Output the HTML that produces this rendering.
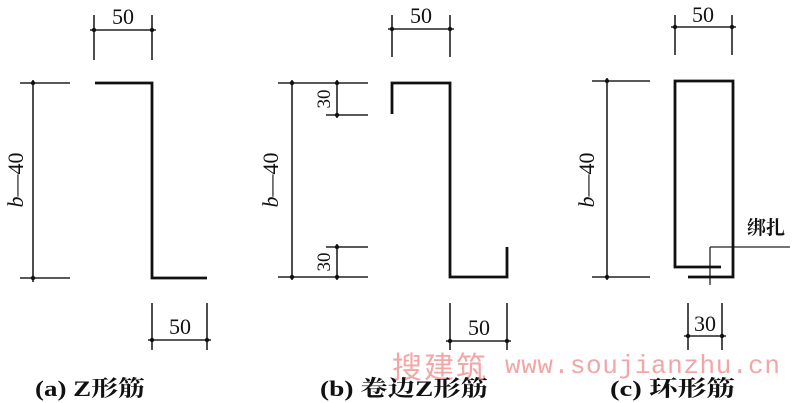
<!DOCTYPE html>
<html><head><meta charset="utf-8"><style>
html,body{margin:0;padding:0;background:#fff;}
svg{display:block;}
</style></head><body>
<svg width="800" height="403" viewBox="0 0 800 403" xmlns="http://www.w3.org/2000/svg">
<g stroke="#222" fill="none" stroke-width="1.6">
<line x1="94" y1="15" x2="94" y2="60"/><line x1="152" y1="15" x2="152" y2="60"/>
<line x1="90" y1="30" x2="156" y2="30"/>
<line x1="20" y1="83" x2="70" y2="83"/><line x1="20" y1="278" x2="70" y2="278"/>
<line x1="33" y1="80" x2="33" y2="282"/>
<line x1="152" y1="303" x2="152" y2="350"/><line x1="207" y1="303" x2="207" y2="350"/>
<line x1="148" y1="340" x2="211" y2="340"/>
<line x1="392" y1="15" x2="392" y2="57"/><line x1="450" y1="15" x2="450" y2="57"/>
<line x1="388" y1="29" x2="454" y2="29"/>
<line x1="278" y1="83" x2="368" y2="83"/><line x1="278" y1="277" x2="368" y2="277"/>
<line x1="326" y1="115" x2="368" y2="115"/><line x1="326" y1="247" x2="368" y2="247"/>
<line x1="292" y1="80" x2="292" y2="280"/>
<line x1="337" y1="80" x2="337" y2="118"/><line x1="337" y1="244" x2="337" y2="280"/>
<line x1="450" y1="303" x2="450" y2="350"/><line x1="507" y1="303" x2="507" y2="350"/>
<line x1="446" y1="341" x2="511" y2="341"/>
<line x1="675" y1="15" x2="675" y2="55"/><line x1="732" y1="15" x2="732" y2="55"/>
<line x1="671" y1="27" x2="736" y2="27"/>
<line x1="592" y1="81" x2="650" y2="81"/><line x1="592" y1="277" x2="650" y2="277"/>
<line x1="607" y1="78" x2="607" y2="280"/>
<line x1="688" y1="303" x2="688" y2="350"/><line x1="722" y1="303" x2="722" y2="350"/>
<line x1="684" y1="336" x2="726" y2="336"/>
<line x1="710" y1="247" x2="790" y2="247" stroke-width="1.3"/>
<line x1="710" y1="247" x2="710" y2="285" stroke-width="1.3"/>
</g>
<g stroke="#111" fill="none" stroke-width="2.8">
<polyline points="95,83 152,83 152,278 207,278"/>
<polyline points="392,114 392,83 450,83 450,277 507,277 507,247"/>
<polyline points="721,267 675,267 675,81 733,81 733,277 688,277"/>
</g>
<g fill="#111">
<circle cx="94" cy="30" r="2.2"/><circle cx="152" cy="30" r="2.2"/>
<circle cx="33" cy="83" r="2.2"/><circle cx="33" cy="278" r="2.2"/>
<circle cx="152" cy="340" r="2.2"/><circle cx="207" cy="340" r="2.2"/>
<circle cx="392" cy="29" r="2.2"/><circle cx="450" cy="29" r="2.2"/>
<circle cx="292" cy="83" r="2.2"/><circle cx="292" cy="277" r="2.2"/>
<circle cx="337" cy="83" r="2.2"/><circle cx="337" cy="115" r="2.2"/>
<circle cx="337" cy="247" r="2.2"/><circle cx="337" cy="277" r="2.2"/>
<circle cx="450" cy="341" r="2.2"/><circle cx="507" cy="341" r="2.2"/>
<circle cx="675" cy="27" r="2.2"/><circle cx="732" cy="27" r="2.2"/>
<circle cx="607" cy="81" r="2.2"/><circle cx="607" cy="277" r="2.2"/>
<circle cx="688" cy="336" r="2.2"/><circle cx="722" cy="336" r="2.2"/>
</g>
<g font-family="Liberation Serif, serif" font-size="22" fill="#111" text-anchor="middle">
<text x="123" y="24">50</text>
<text x="180" y="334">50</text>
<text x="421" y="23">50</text>
<text x="479" y="335">50</text>
<text x="703" y="22">50</text>
<text x="705" y="331">30</text>
<text transform="translate(23,180) rotate(-90)"><tspan font-style="italic">b</tspan>—40</text>
<text transform="translate(278,180) rotate(-90)"><tspan font-style="italic">b</tspan>—40</text>
<text transform="translate(594,180) rotate(-90)"><tspan font-style="italic">b</tspan>—40</text>
<text transform="translate(330,99) rotate(-90)" font-size="19">30</text>
<text transform="translate(330,262) rotate(-90)" font-size="19">30</text>
</g>
<g fill="#f2a6a6">
<text x="392" y="378" font-size="30" font-family="Noto Sans CJK SC, sans-serif" letter-spacing="2">搜建筑</text>
<text x="505" y="373" font-size="26" font-family="Liberation Mono, monospace" textLength="275">www.soujianzhu.cn</text>
</g>
<g font-family="Liberation Serif, Noto Serif CJK SC, serif" font-size="22" fill="#111" font-weight="bold">
<text x="35" y="396" textLength="110" lengthAdjust="spacingAndGlyphs">(a) Z形筋</text>
<text x="320" y="396" textLength="168" lengthAdjust="spacingAndGlyphs">(b) 卷边Z形筋</text>
<text x="610" y="396" textLength="125" lengthAdjust="spacingAndGlyphs">(c) 环形筋</text>
<text x="747" y="234" font-size="19">绑扎</text>
</g>
</svg>
</body></html>
